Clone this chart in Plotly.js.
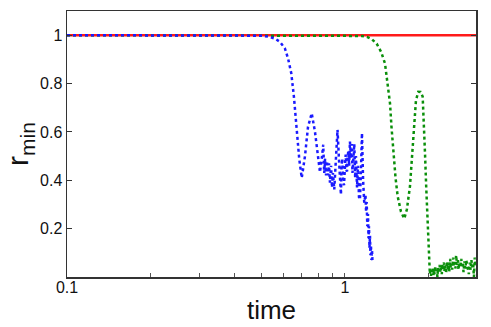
<!DOCTYPE html>
<html>
<head>
<meta charset="utf-8">
<script src="https://cdn.plot.ly/plotly-3.0.1.min.js"></script>
<style>
  html, body { margin: 0; padding: 0; background: #fff; }
  #chart { width: 491px; height: 327px; }
</style>
</head>
<body>
<div id="chart"></div>
<script>
// red reference line
const redTime = [0.1, 3.0];
const redR = [1, 1];

// blue run
const blueTime = [
  0.1, 0.3, 0.45, 0.5, 0.53, 0.56, 0.584, 0.608, 0.624, 0.641,
  0.655, 0.673, 0.685, 0.699, 0.718, 0.736, 0.759, 0.78, 0.80, 0.813,
  0.827, 0.835, 0.842, 0.848, 0.855, 0.862, 0.869, 0.876, 0.883, 0.891,
  0.898, 0.905, 0.915, 0.928, 0.940, 0.952, 0.967, 0.972, 0.978, 0.985,
  0.992, 1.000, 1.006, 1.012, 1.017, 1.023, 1.028, 1.035, 1.042, 1.051,
  1.058, 1.064, 1.072, 1.080, 1.088, 1.095, 1.105, 1.114, 1.123, 1.132,
  1.142, 1.151, 1.162, 1.173, 1.185, 1.191, 1.197, 1.203, 1.210, 1.215,
  1.220, 1.225, 1.230, 1.235, 1.240, 1.245, 1.251, 1.255, 1.258
];
const blueR = [
  1, 1, 1, 0.998, 0.994, 0.986, 0.972, 0.945, 0.904, 0.842,
  0.746, 0.595, 0.485, 0.41, 0.50, 0.62, 0.677, 0.60, 0.48, 0.433,
  0.50, 0.547, 0.43, 0.49, 0.42, 0.48, 0.42, 0.47, 0.39, 0.46,
  0.37, 0.43, 0.362, 0.50, 0.609, 0.48, 0.341, 0.46, 0.49, 0.39,
  0.38, 0.46, 0.506, 0.44, 0.437, 0.50, 0.52, 0.46, 0.56, 0.49,
  0.55, 0.43, 0.51, 0.55, 0.41, 0.50, 0.37, 0.46, 0.33, 0.32,
  0.45, 0.595, 0.40, 0.307, 0.34, 0.27, 0.31, 0.21, 0.26, 0.16,
  0.21, 0.12, 0.17, 0.09, 0.13, 0.07, 0.11, 0.07, 0.065
];

// green run
const greenTime = [
  0.1, 0.5, 1.0, 1.1, 1.15, 1.2, 1.25, 1.30, 1.35, 1.393,
  1.42, 1.452, 1.47, 1.492, 1.52, 1.547, 1.59, 1.634, 1.67, 1.713,
  1.74, 1.771, 1.80, 1.835, 1.87, 1.903, 1.92, 1.94, 1.96, 1.983,
  2.005, 2.02,
  2.03, 2.04, 2.05, 2.06, 2.07, 2.08, 2.09, 2.10, 2.11, 2.12,
  2.14, 2.15, 2.16, 2.17, 2.19, 2.20, 2.21, 2.23, 2.24, 2.25,
  2.27, 2.28, 2.30, 2.31, 2.33, 2.34, 2.36, 2.37, 2.39, 2.40,
  2.42, 2.43, 2.45, 2.46, 2.48, 2.50, 2.51, 2.53, 2.55, 2.56,
  2.58, 2.60, 2.62, 2.63, 2.65, 2.67, 2.69, 2.71, 2.73, 2.75,
  2.77, 2.79, 2.81, 2.83, 2.85, 2.87, 2.89, 2.91, 2.93, 2.95
];
const greenR = [
  1, 1, 1, 0.999, 0.997, 0.993, 0.983, 0.965, 0.93, 0.883,
  0.81, 0.718, 0.62, 0.513, 0.41, 0.334, 0.27, 0.241, 0.28, 0.375,
  0.50, 0.65, 0.73, 0.766, 0.765, 0.746, 0.66, 0.513, 0.37, 0.238,
  0.087, 0.012,
  0.035, 0.005, 0.03, 0.015, 0.04, 0.008, 0.028, 0.012, 0.045, 0.02,
  0.03, 0.0, 0.038, 0.018, 0.05, 0.022, 0.04, 0.012, 0.055, 0.03,
  0.06, 0.025, 0.048, 0.015, 0.065, 0.035, 0.05, 0.02, 0.075, 0.04,
  0.055, 0.03, 0.08, 0.045, 0.062, 0.035, 0.09, 0.05, 0.07, 0.03,
  0.06, 0.04, 0.075, 0.045, 0.058, 0.02, 0.065, 0.035, 0.07, 0.05,
  0.045, 0.012, 0.06, 0.03, 0.07, 0.04, 0.055, 0.0, 0.08, 0.05
];

const xTicks = [0.1, 0.2, 0.3, 0.4, 0.5, 0.6, 0.7, 0.8, 0.9, 1, 2, 3];
const xTickText = ['0.1', '', '', '', '', '', '', '', '', '1', '', ''];
const yTicks = [0.2, 0.4, 0.6, 0.8, 1];
const yTickText = ['0.2', '0.4', '0.6', '0.8', '1'];

const traces = [
  { x: redTime, y: redR, mode: 'lines', line: { color: '#ff1a1a', width: 2.5 } },
  { x: greenTime, y: greenR, mode: 'lines', line: { color: '#0a8f0a', width: 2.5, dash: 'dot' } },
  { x: blueTime, y: blueR, mode: 'lines', line: { color: '#1a1aff', width: 2.5, dash: 'dot' } }
];

const font = 'Liberation Sans, Arial, sans-serif';

const layout = {
  width: 491,
  height: 327,
  margin: { l: 67, r: 15, t: 11, b: 50 },
  showlegend: false,
  paper_bgcolor: '#fff',
  plot_bgcolor: '#fff',
  font: { family: font, color: '#111', size: 16 },
  xaxis: {
    type: 'log',
    range: [-1, Math.log10(2.96)],
    tickmode: 'array',
    tickvals: xTicks,
    ticktext: xTickText,
    ticks: 'inside',
    ticklen: 4,
    tickcolor: '#555',
    ticklabelstandoff: -5,
    showline: true,
    linecolor: '#333',
    linewidth: 1.5,
    mirror: true,
    showgrid: false,
    zeroline: false,
    tickfont: { size: 16 },
    title: { text: 'time', font: { size: 26 }, standoff: 6 }
  },
  yaxis: {
    range: [0, 1.1],
    tickmode: 'array',
    tickvals: yTicks,
    ticktext: yTickText,
    ticks: 'inside',
    ticklen: 5,
    tickcolor: '#333',
    showline: true,
    linecolor: '#333',
    linewidth: 1.5,
    mirror: 'ticks',
    showgrid: false,
    zeroline: false,
    tickfont: { size: 16 },
    title: { text: 'r<sub>min</sub>', font: { size: 30 }, standoff: 2 }
  }
};

Plotly.newPlot('chart', traces, layout, { displayModeBar: false, staticPlot: true });
</script>
</body>
</html>
